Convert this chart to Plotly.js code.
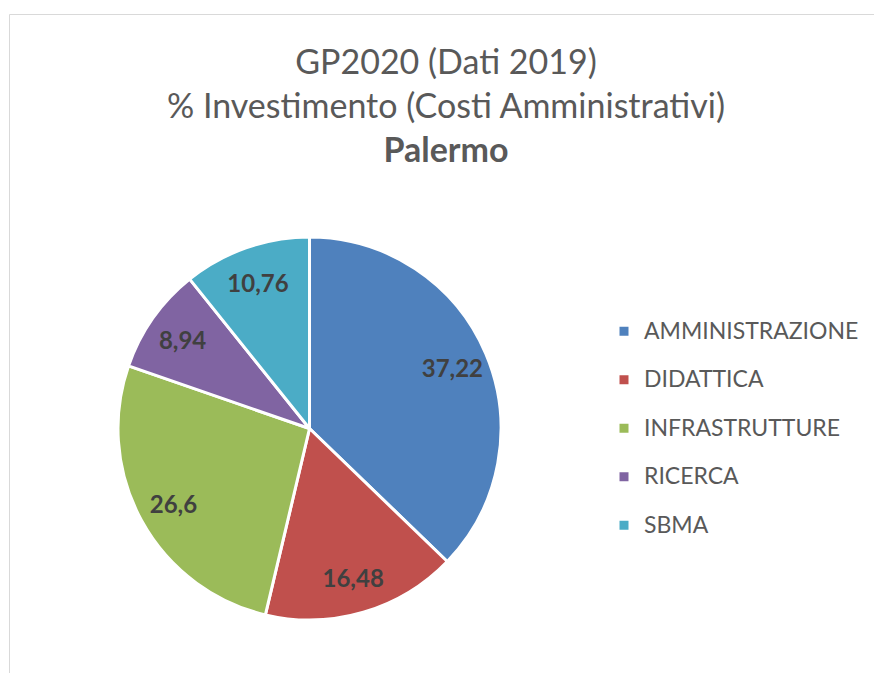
<!DOCTYPE html>
<html>
<head>
<meta charset="utf-8">
<script src="https://cdn.plot.ly/plotly-3.0.1.min.js"></script>
<style>html,body{margin:0;padding:0;background:#fff;}#chart{width:874px;height:673px;}</style>
</head>
<body>
<div id="chart"></div>
<script>
var categories = ["AMMINISTRAZIONE", "DIDATTICA", "INFRASTRUTTURE", "RICERCA", "SBMA"];
var values = [37.22, 16.48, 26.6, 8.94, 10.76];
var colors = ["#4F81BD", "#C0504D", "#9BBB59", "#8064A2", "#4BACC6"];
var titleLines = ["GP2020 (Dati 2019)", "% Investimento (Costi Amministrativi)", "Palermo"];

var W = 874, H = 673;
var cx = 309.5, cy = 428.5, R = 191.5;   // pie geometry (px)
var Rt = 194;                             // text ring radius (px)

function dom(r) {
  return {
    x: [(cx - r) / W, (cx + r) / W],
    y: [(H - cy - r) / H, (H - cy + r) / H]
  };
}

var legendNames = categories.map(function (c) {
  return '<span style="font-size:23px;baseline-shift:6px">' + c + '</span>';
});

var pie = {
  type: "pie",
  labels: legendNames,
  values: values,
  sort: false,
  direction: "clockwise",
  rotation: 0,
  marker: { colors: colors, line: { color: "#ffffff", width: 3 } },
  textinfo: "none",
  hoverinfo: "label+value",
  domain: dom(R),
  showlegend: true
};

var labelsPie = {
  type: "pie",
  labels: legendNames,
  values: values,
  sort: false,
  direction: "clockwise",
  rotation: 0,
  hole: 0.6,
  marker: { colors: categories.map(function () { return "rgba(0,0,0,0)"; }), line: { width: 0 } },
  textinfo: "value",
  textposition: "inside",
  insidetextorientation: "horizontal",
  insidetextfont: { family: "Lato, 'Open Sans', sans-serif", size: 24, color: "#404040", weight: "bold" },
  hoverinfo: "skip",
  domain: dom(Rt),
  showlegend: false
};

var layout = {
  width: W,
  height: H,
  margin: { l: 0, r: 0, t: 0, b: 0 },
  paper_bgcolor: "#ffffff",
  separators: ",.",
  font: { family: "Lato, 'Open Sans', sans-serif", color: "#595959" },
  title: {
    text: titleLines[0] + "<br>" + titleLines[1] + "<br><b>" + titleLines[2] + "</b>",
    font: { family: "Lato, 'Open Sans', sans-serif", size: 34, color: "#595959" },
    x: 446 / W,
    xanchor: "center",
    xref: "paper",
    y: 1 - 74 / H,
    yanchor: "top",
    yref: "container"
  },
  legend: {
    x: 604 / W,
    xanchor: "left",
    y: 1 - 302 / H,
    yanchor: "top",
    font: { family: "Lato, 'Open Sans', sans-serif", size: 35, color: "#595959" },
    bgcolor: "rgba(0,0,0,0)",
    traceorder: "normal"
  },
  shapes: [{
    type: "rect", xref: "paper", yref: "paper",
    x0: 9.5 / W, x1: 1.05, y0: -0.05, y1: 1 - 14.5 / H,
    line: { color: "#d9d9d9", width: 1 }, fillcolor: "rgba(0,0,0,0)", layer: "below"
  }]
};

Plotly.newPlot("chart", [pie, labelsPie], layout, { displayModeBar: false, staticPlot: true });
</script>
</body>
</html>
